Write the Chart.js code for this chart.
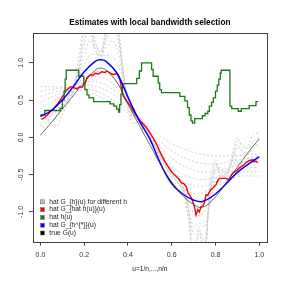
<!DOCTYPE html>
<html>
<head>
<meta charset="utf-8">
<script src="https://cdn.jsdelivr.net/npm/chart.js@4/dist/chart.umd.min.js"></script>
<style>
  body { margin: 0; background: #fff; }
  canvas { display: block; }
</style>
</head>
<body>
<canvas id="est" width="284" height="284"></canvas>
<script>
const chartTitle = 'Estimates with local bandwidth selection';
const xTicks = [0, 0.2, 0.4, 0.6, 0.8, 1.0];
const yTicks = [-1.0, -0.5, 0.0, 0.5, 1.0];

// gray curves, large bandwidths (smooth)
const uCoarse = [0, 0.1, 0.2, 0.3, 0.4, 0.5, 0.6, 0.7, 0.8, 0.9, 1.0];
const graySmooth = [
  [0.68, 0.67, 0.62, 0.50, 0.33, 0.12, -0.08, -0.20, -0.25, -0.24, -0.22],
  [0.62, 0.66, 0.66, 0.56, 0.36, 0.08, -0.18, -0.32, -0.36, -0.30, -0.27],
  [0.55, 0.64, 0.70, 0.63, 0.40, 0.05, -0.28, -0.44, -0.46, -0.37, -0.33],
  [0.47, 0.61, 0.74, 0.70, 0.43, 0.02, -0.38, -0.55, -0.54, -0.43, -0.40],
  [0.38, 0.56, 0.78, 0.78, 0.46, 0.00, -0.46, -0.65, -0.60, -0.48, -0.46],
  [0.30, 0.50, 0.80, 0.86, 0.50, -0.02, -0.52, -0.75, -0.66, -0.53, -0.52]
];

// gray curves, small bandwidths (wiggly)
const uFine = [0, 0.025, 0.05, 0.075, 0.1, 0.125, 0.15, 0.175, 0.2, 0.225,
  0.25, 0.275, 0.3, 0.325, 0.35, 0.375, 0.4, 0.425, 0.45, 0.475,
  0.5, 0.525, 0.55, 0.575, 0.6, 0.625, 0.65, 0.675, 0.7, 0.725,
  0.75, 0.775, 0.8, 0.825, 0.85, 0.875, 0.9, 0.925, 0.95, 0.975, 1.0];
const grayWiggly = [
  [0.20, 0.10, 0.25, 0.15, 0.30, 0.45, 0.60, 0.95, 1.55, 1.70,
   1.30, 1.10, 1.50, 1.75, 1.60, 1.00, 0.40, 0.15, 0.25, 0.05,
   0.10, -0.10, -0.30, -0.35, -0.45, -0.55, -0.60, -0.90, -1.70, -1.20,
   -1.80, -0.60, -0.30, -0.55, -0.50, -0.30, 0.00, -0.15, -0.10, 0.05, 0.05],
  [0.15, 0.25, 0.20, 0.30, 0.40, 0.50, 0.65, 1.10, 1.45, 1.60,
   1.25, 1.15, 1.40, 1.65, 1.50, 0.95, 0.45, 0.20, 0.20, 0.10,
   0.00, -0.15, -0.20, -0.40, -0.55, -0.50, -0.65, -1.10, -1.60, -1.40,
   -1.60, -0.70, -0.35, -0.50, -0.55, -0.25, -0.05, -0.10, -0.15, -0.05, 0.00],
  [0.30, 0.20, 0.30, 0.35, 0.35, 0.50, 0.70, 0.90, 1.25, 1.50,
   1.20, 1.05, 1.30, 1.50, 1.45, 0.90, 0.50, 0.30, 0.30, 0.15,
   0.05, -0.05, -0.25, -0.40, -0.50, -0.50, -0.70, -1.00, -1.45, -1.30,
   -1.50, -0.80, -0.40, -0.45, -0.45, -0.35, -0.10, -0.20, -0.20, -0.10, -0.10],
  [0.35, 0.30, 0.35, 0.40, 0.40, 0.55, 0.68, 0.90, 1.35, 1.45,
   1.15, 1.10, 1.35, 1.45, 1.35, 0.95, 0.50, 0.30, 0.25, 0.20,
   0.05, -0.05, -0.20, -0.35, -0.50, -0.55, -0.65, -0.95, -1.30, -1.25,
   -1.40, -0.75, -0.45, -0.40, -0.50, -0.30, -0.15, -0.18, -0.22, -0.15, -0.12],
  [0.25, 0.25, 0.30, 0.35, 0.42, 0.50, 0.62, 0.85, 1.10, 1.30,
   1.20, 1.15, 1.20, 1.30, 1.20, 0.85, 0.55, 0.35, 0.28, 0.18,
   0.05, -0.10, -0.25, -0.38, -0.48, -0.58, -0.70, -0.95, -1.20, -1.15,
   -1.20, -0.90, -0.55, -0.50, -0.45, -0.40, -0.25, -0.25, -0.28, -0.25, -0.25],
  [0.28, 0.30, 0.33, 0.38, 0.45, 0.53, 0.63, 0.80, 0.98, 1.10,
   1.12, 1.10, 1.10, 1.10, 1.00, 0.80, 0.55, 0.38, 0.25, 0.12,
   0.00, -0.12, -0.25, -0.38, -0.50, -0.60, -0.72, -0.88, -1.02, -1.05,
   -1.00, -0.85, -0.65, -0.55, -0.48, -0.42, -0.35, -0.33, -0.32, -0.30, -0.30]
];

// hat G_{hat h(u)}(u)
const redU = [0.005, 0.02, 0.035, 0.046, 0.06, 0.076, 0.09, 0.106, 0.115, 0.122,
  0.137, 0.15, 0.167, 0.18, 0.19, 0.205, 0.213, 0.228, 0.24, 0.25,
  0.265, 0.28, 0.295, 0.304, 0.32, 0.334, 0.35, 0.358, 0.365, 0.372,
  0.38, 0.395, 0.41, 0.425, 0.44, 0.456, 0.47, 0.487, 0.5, 0.515,
  0.525, 0.538, 0.55, 0.568, 0.585, 0.599, 0.615, 0.63, 0.644, 0.655,
  0.666, 0.675, 0.688, 0.696, 0.704, 0.711, 0.719, 0.726, 0.734, 0.742,
  0.749, 0.757, 0.765, 0.77, 0.78, 0.787, 0.795, 0.803, 0.81, 0.818,
  0.83, 0.848, 0.863, 0.87, 0.879, 0.895, 0.909, 0.925, 0.939, 0.955,
  0.97, 0.978, 0.985, 0.993];
const redV = [0.24, 0.27, 0.31, 0.35, 0.38, 0.44, 0.50, 0.57, 0.62, 0.64,
  0.68, 0.67, 0.65, 0.68, 0.67, 0.73, 0.80, 0.84, 0.83, 0.86,
  0.85, 0.88, 0.87, 0.89, 0.86, 0.84, 0.86, 0.82, 0.75, 0.62,
  0.55, 0.48, 0.43, 0.35, 0.29, 0.22, 0.18, 0.12, 0.06, -0.01,
  -0.06, -0.14, -0.22, -0.32, -0.40, -0.46, -0.51, -0.55, -0.61, -0.62,
  -0.66, -0.75, -0.80, -0.86, -0.93, -1.04, -0.97, -1.00, -0.93, -0.92,
  -0.88, -0.77, -0.78, -0.74, -0.70, -0.68, -0.66, -0.63, -0.58, -0.55,
  -0.55, -0.55, -0.57, -0.52, -0.48, -0.45, -0.41, -0.38, -0.34, -0.31,
  -0.30, -0.33, -0.32, -0.34];

// hat h(u), step function
const greenU = [0, 0.02, 0.09, 0.1, 0.108, 0.113, 0.118, 0.175, 0.198, 0.203,
  0.213, 0.222, 0.243, 0.318, 0.335, 0.348, 0.357, 0.362, 0.368, 0.375,
  0.44, 0.452, 0.462, 0.508, 0.515, 0.538, 0.545, 0.553, 0.637, 0.66,
  0.672, 0.68, 0.688, 0.695, 0.705, 0.74, 0.752, 0.765, 0.772, 0.782,
  0.79, 0.8, 0.808, 0.815, 0.822, 0.826, 0.863, 0.866, 0.874, 0.904,
  0.918, 0.954, 0.985, 0.995];
const greenV = [0.30, 0.36, 0.39, 0.50, 0.62, 0.78, 0.90, 0.82, 0.72, 0.64,
  0.57, 0.53, 0.48, 0.45, 0.42, 0.38, 0.34, 0.44, 0.58, 0.72,
  0.79, 0.89, 1.00, 0.91, 0.82, 0.73, 0.64, 0.60, 0.55, 0.49,
  0.40, 0.30, 0.22, 0.19, 0.25, 0.29, 0.32, 0.35, 0.42, 0.47,
  0.53, 0.62, 0.70, 0.78, 0.86, 0.90, 0.90, 0.42, 0.385, 0.35,
  0.385, 0.425, 0.48, 0.48];

// hat G_{h^{*}}(u) and true G(u)
const uMid = [0, 0.05, 0.1, 0.15, 0.2, 0.25, 0.275, 0.3, 0.35, 0.4, 0.45, 0.5,
  0.55, 0.6, 0.65, 0.7, 0.74, 0.8, 0.85, 0.9, 0.95, 1.0];
const blueV = [0.28, 0.36, 0.50, 0.68, 0.88, 1.02, 1.04, 1.02, 0.86, 0.54, 0.23, -0.02,
  -0.36, -0.62, -0.76, -0.84, -0.86, -0.76, -0.62, -0.47, -0.36, -0.26];
const trueV = [0.03, 0.20, 0.38, 0.56, 0.74, 0.90, 0.93, 0.90, 0.74, 0.45, 0.17, -0.10,
  -0.37, -0.60, -0.78, -0.90, -0.94, -0.80, -0.60, -0.40, -0.20, -0.02];

const legendLabels = [
  'hat G_{h}(u) for different h',
  'hat G_{hat h(u)}(u)',
  'hat h(u)',
  'hat G_{h^{*}}(u)',
  'true G(u)'
];
const legendColors = ['#bebebe', '#ff0000', '#1a7a1a', '#0000ff', '#000000'];

const pts = (xs, ys) => xs.map((x, i) => ({ x: x, y: ys[i] }));

const datasets = [];
graySmooth.forEach(g => {
  datasets.push({ data: pts(uCoarse, g), borderColor: '#c8c8c8', borderWidth: 0.8,
    borderDash: [2, 2], tension: 0.4, order: 10 });
});
grayWiggly.forEach(g => {
  datasets.push({ data: pts(uFine, g), borderColor: '#c8c8c8', borderWidth: 0.8,
    borderDash: [2, 2], tension: 0.3, order: 10 });
});
datasets.push({ data: pts(redU, redV), borderColor: legendColors[1], borderWidth: 1.4, order: 4 });
datasets.push({ data: pts(greenU, greenV), borderColor: legendColors[2], borderWidth: 1.3, stepped: true, order: 3 });
datasets.push({ data: pts(uMid, blueV), borderColor: legendColors[3], borderWidth: 1.5, tension: 0.4, order: 2 });
datasets.push({ data: pts(uMid, trueV), borderColor: '#333333', borderWidth: 0.7, tension: 0.4, order: 1 });

const FONT = '"Liberation Sans", Arial, sans-serif';

const boxAndLegend = {
  id: 'boxAndLegend',
  afterDraw(chart) {
    const { ctx, chartArea: a } = chart;
    ctx.save();
    ctx.strokeStyle = '#444';
    ctx.lineWidth = 1;
    ctx.strokeRect(Math.round(a.left) + 0.5, Math.round(a.top) + 0.5,
      Math.round(a.right - a.left), Math.round(a.bottom - a.top));

    // title, centred over the plot region
    ctx.fillStyle = '#000';
    ctx.font = 'bold 8.3px ' + FONT;
    ctx.textAlign = 'center';
    ctx.textBaseline = 'middle';
    ctx.fillText(chartTitle, (a.left + a.right) / 2, 22.3);

    ctx.font = '6.7px ' + FONT;
    ctx.textAlign = 'left';
    legendLabels.forEach((lab, i) => {
      const y = 201.8 + i * 7.8;
      ctx.fillStyle = legendColors[i];
      ctx.fillRect(40.5, y - 2, 4, 4);
      ctx.strokeStyle = '#777';
      ctx.lineWidth = 0.6;
      ctx.strokeRect(40.5, y - 2, 4, 4);
      ctx.fillStyle = '#222';
      ctx.fillText(lab, 49.3, y);
    });
    ctx.restore();
  }
};

new Chart(document.getElementById('est').getContext('2d'), {
  type: 'line',
  data: { datasets: datasets },
  options: {
    responsive: false,
    animation: false,
    elements: { point: { radius: 0 } },
    layout: { padding: { left: 0, right: 17.3, top: 33, bottom: 0 } },
    plugins: {
      legend: { display: false },
      tooltip: { enabled: false },
      title: { display: false }
    },
    scales: {
      x: {
        type: 'linear',
        min: -0.034,
        max: 1.034,
        afterBuildTicks: s => { s.ticks = xTicks.map(v => ({ value: v })); },
        afterFit: s => { s.height = 42.3; },
        grid: { drawOnChartArea: false, drawTicks: true, tickLength: 4, color: '#444' },
        border: { display: false },
        ticks: {
          color: '#333', padding: 5, maxRotation: 0,
          font: { family: FONT, size: 7 },
          callback: v => v.toFixed(1)
        },
        title: {
          display: true, text: 'u=1/n,...,n/n', color: '#222',
          font: { family: FONT, size: 6.6 },
          padding: { top: 0, bottom: 11 }
        }
      },
      y: {
        min: -1.4,
        max: 1.4,
        afterBuildTicks: s => { s.ticks = yTicks.map(v => ({ value: v })); },
        afterFit: s => { s.width = 33; },
        grid: { drawOnChartArea: false, drawTicks: true, tickLength: 4, color: '#444' },
        border: { display: false },
        ticks: {
          color: '#333', padding: 2, minRotation: 90, maxRotation: 90, crossAlign: 'center',
          font: { family: FONT, size: 7 },
          callback: v => v.toFixed(1)
        }
      }
    }
  },
  plugins: [boxAndLegend]
});
</script>
</body>
</html>
